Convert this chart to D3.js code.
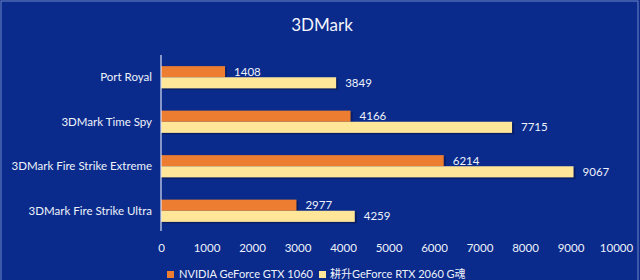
<!DOCTYPE html>
<html><head><meta charset="utf-8">
<script src="https://cdn.jsdelivr.net/npm/d3@7"></script>
<style>
html,body{margin:0;padding:0;background:#0a2b8c;overflow:hidden;}
svg{display:block;}
text{font-family:Lato,"Noto Sans CJK SC",sans-serif;}
</style></head><body>
<svg id="c" width="640" height="280"></svg>
<script>
const categories = ["Port Royal","3DMark Time Spy","3DMark Fire Strike Extreme","3DMark Fire Strike Ultra"];
const seriesNames = ["NVIDIA GeForce GTX 1060","耕升GeForce RTX 2060 G魂"];
const gtx1060 = [1408,4166,6214,2977];
const rtx2060 = [3849,7715,9067,4259];
const tickValues = [0,1000,2000,3000,4000,5000,6000,7000,8000,9000,10000];
const colors = ["#ed7d31","#ffe699"];

const svg = d3.select("#c");
const W=640,H=280;
svg.append("rect").attr("x",0).attr("y",0).attr("width",W).attr("height",H).attr("fill","#0a2b8c");
svg.append("rect").attr("x",1).attr("y",1).attr("width",W-3).attr("height",H).attr("fill","none").attr("stroke","#6f86c4").attr("stroke-width",1);

svg.append("text").attr("x",322).attr("y",31).attr("text-anchor","middle")
  .attr("fill","#f2f5fc").attr("font-size",17).text("3DMark");

const x = d3.scaleLinear().domain([0,10000]).range([161,616]);
const y = d3.scaleBand().domain(categories).range([55,233]).paddingInner(0.5).paddingOuter(0.25);
const sub = d3.scaleBand().domain([0,1]).range([0,y.bandwidth()]);

const data = categories.map((c,i)=>({c, v:[gtx1060[i], rtx2060[i]]}));

const g = svg.append("g");
data.forEach(d=>{
  d.v.forEach((v,s)=>{
    const yy = y(d.c)+sub(s);
    g.append("rect").attr("x",x(0)).attr("y",yy+1.5).attr("width",x(v)-x(0)+2).attr("height",sub.bandwidth())
      .attr("fill","#081a55").attr("opacity",0.7);
    g.append("rect").attr("x",x(0)).attr("y",yy).attr("width",x(v)-x(0)).attr("height",sub.bandwidth())
      .attr("fill",colors[s]);
    g.append("text").attr("x",x(v)+9).attr("y",yy+sub.bandwidth()/2).attr("dy","0.35em")
      .attr("fill","#eef2fb").attr("font-size",11.5).text(v);
  });
});

// axis line
svg.append("line").attr("x1",x(0)).attr("x2",x(0)).attr("y1",55).attr("y2",231)
  .attr("stroke","#d9e1f2").attr("stroke-width",1.2);

// category labels
svg.selectAll(".cat").data(categories).enter().append("text")
  .attr("x",152).attr("y",d=>y(d)+y.bandwidth()/2).attr("dy","0.35em")
  .attr("text-anchor","end").attr("fill","#eef2fb").attr("font-size",11.5).text(d=>d);

// x axis ticks
const xAxis = d3.axisBottom(x).tickValues(tickValues).tickSize(0).tickPadding(0).tickFormat(d3.format("d"));
const ax = svg.append("g").attr("transform","translate(0,244)").call(xAxis);
ax.select(".domain").remove();
ax.selectAll("text").attr("fill","#eef2fb").attr("font-size",11.5).attr("font-family","Lato");

// legend
const leg = svg.append("g");
leg.append("rect").attr("x",167).attr("y",271).attr("width",7).attr("height",7).attr("fill",colors[0]);
leg.append("text").attr("x",179).attr("y",278).attr("fill","#eef2fb").attr("font-size",11).attr("textLength",134).attr("lengthAdjust","spacingAndGlyphs").text(seriesNames[0]);
leg.append("rect").attr("x",319).attr("y",271).attr("width",7).attr("height",7).attr("fill",colors[1]);
leg.append("text").attr("x",330).attr("y",278).attr("fill","#eef2fb").attr("font-size",11).text(seriesNames[1]);
</script>
</body></html>
